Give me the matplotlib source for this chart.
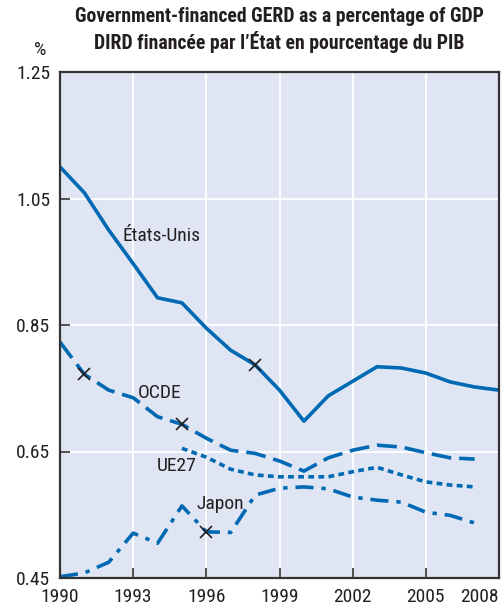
import matplotlib.pyplot as plt
from matplotlib import font_manager

# series (share of GDP, %)
years = list(range(1990, 2009))
us = [1.100, 1.059, 1.000, 0.947, 0.893, 0.885, 0.845, 0.810, 0.787, 0.747,
      0.698, 0.738, 0.761, 0.784, 0.782, 0.774, 0.760, 0.752, 0.747]
oecd_years = list(range(1990, 2008))
oecd = [0.823, 0.772, 0.747, 0.735, 0.705, 0.693, 0.671, 0.652, 0.647, 0.635,
        0.619, 0.640, 0.652, 0.660, 0.657, 0.648, 0.640, 0.638]
eu_years = list(range(1995, 2008))
eu27 = [0.655, 0.641, 0.622, 0.613, 0.610, 0.610, 0.610, 0.618, 0.625, 0.613,
        0.602, 0.597, 0.594]
jp_years = list(range(1990, 2008))
japan = [0.452, 0.458, 0.475, 0.521, 0.505, 0.564, 0.523, 0.522, 0.581, 0.592,
         0.594, 0.591, 0.578, 0.573, 0.570, 0.554, 0.549, 0.537]

# break-in-series markers
breaks = [(oecd_years, oecd, [1991, 1995]), (years, us, [1998]), (jp_years, japan, [1996])]

xticks = [1990, 1993, 1996, 1999, 2002, 2005, 2008]
yticks = [0.45, 0.65, 0.85, 1.05, 1.25]

# condensed sans, first one that is installed
names = set(f.name for f in font_manager.fontManager.ttflist)
fam = 'DejaVu Sans'
for cand in ['Liberation Sans Narrow', 'Roboto Condensed', 'Archivo Narrow', 'PT Sans Narrow', 'Open Sans Condensed']:
    if cand in names:
        fam = cand
        break
plt.rcParams['font.family'] = [fam, 'DejaVu Sans']

blue = '#0069b4'
ink = '#231f20'
fig = plt.figure(figsize=(5.03, 6.12), dpi=100)
ax = fig.add_axes([60/503, 34/612, 439/503, 506/612])
ax.set_facecolor('#dfe5f3')

ax.plot(years, us, color=blue, lw=2.6)
ax.plot(oecd_years, oecd, color=blue, lw=2.6, dashes=(5.5, 2.2))
ax.plot(eu_years, eu27, color=blue, lw=2.6, dashes=(1.6, 1.2))
ax.plot(jp_years, japan, color=blue, lw=2.6, dashes=(5, 2.2, 1.2, 2.2))

for xs, ys, yrs in breaks:
    for yr in yrs:
        ax.plot(yr, ys[xs.index(yr)], marker='x', color=ink, ms=8, mew=1.2, zorder=5)

labels = [('États-Unis', 1994.18, 0.991), ('OCDE', 1994.1, 0.742),
          ('UE27', 1994.8, 0.627), ('Japon', 1996.56, 0.567)]
for txt, x, y in labels:
    ax.text(x, y, txt, fontsize=14, color=ink, ha='center', va='center')

ax.set_xlim(1990, 2008)
ax.set_ylim(0.45, 1.25)
ax.set_xticks(xticks)
ax.set_yticks(yticks)
ax.set_yticklabels([f'{v:.2f}' for v in yticks])
ax.grid(True, color='white', lw=1.3)
ax.set_axisbelow(True)
ax.tick_params(direction='in', length=7, width=1.2, color='#333333',
               labelsize=14, labelcolor=ink, pad=7)
for s in ax.spines.values():
    s.set_color('#333333')
    s.set_linewidth(1.6)
# last year label sits flush with the right border
ax.get_xticklabels()[-1].set_horizontalalignment('right')

fig.text(40/503, 1 - 50/612, '%', fontsize=14, color=ink, ha='center', va='center')
fig.text(279/503, 1 - 17/612, 'Government-financed GERD as a percentage of GDP',
         fontsize=14.2, fontweight='bold', color=ink, ha='center', va='center')
fig.text(279/503, 1 - 42/612, 'DIRD financée par l\u2019État en pourcentage du PIB',
         fontsize=14.2, fontweight='bold', color=ink, ha='center', va='center')

fig.savefig('out.png', dpi=100)
